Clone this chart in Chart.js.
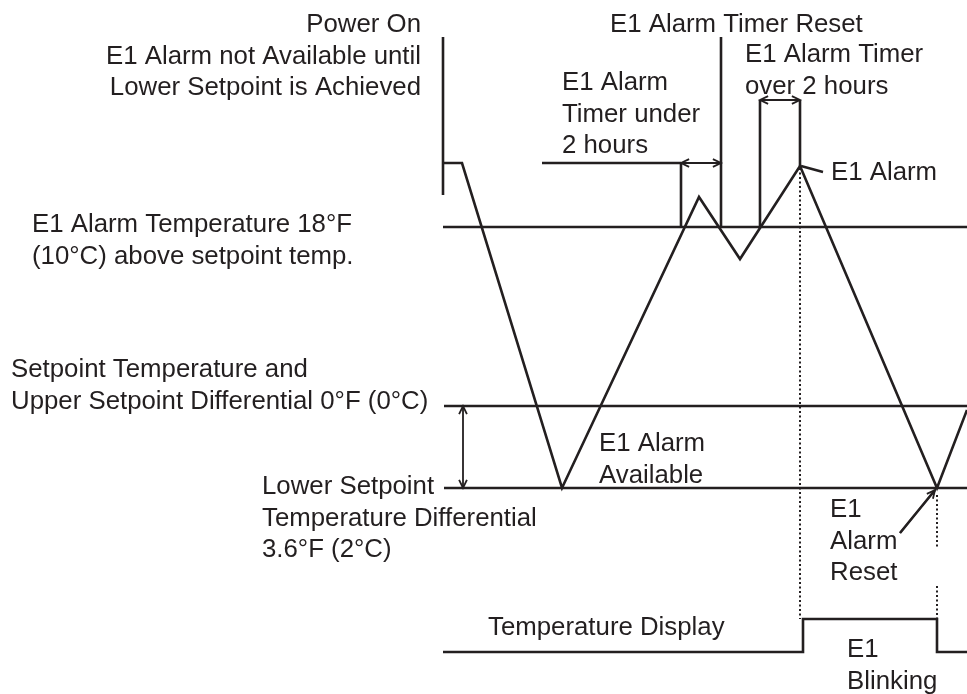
<!DOCTYPE html>
<html>
<head>
<meta charset="utf-8">
<script src="https://cdn.jsdelivr.net/npm/chart.js@4"></script>
<style>
    html, body { margin: 0; padding: 0; background: #fff; }
    #wrap { width: 967px; height: 694px; }
</style>
</head>
<body>
<div id="wrap"><canvas id="diagram" width="967" height="694"></canvas></div>
<script>
// diagram units: x = time axis, y = schematic level (drawn top-down)
const LEVEL_ALARM = 227
const LEVEL_SETPOINT = 406
const LEVEL_LOWER = 488
const DISPLAY_LOW = 652
const DISPLAY_HIGH = 619

// temperature trace: [time, level]
const traceX = [443, 462, 562, 699, 740, 800, 937, 967]
const traceY = [163, 163, 488, 197, 259, 166, 488, 410]

// display signal (normal / E1 blinking)
const displayX = [443, 803, 803, 937, 937, 967]
const displayY = [DISPLAY_LOW, DISPLAY_LOW, DISPLAY_HIGH, DISPLAY_HIGH, DISPLAY_LOW, DISPLAY_LOW]

// marker lines [x1, y1, x2, y2]
const markers = [
    [443, 37, 443, 195],   // power on
    [681, 163, 681, 227],  // timer under start
    [721, 37, 721, 227],   // timer reset
    [542, 163, 681, 163],  // leader to timer under
    [760, 100, 760, 227],  // timer over start
    [800, 100, 800, 166],  // timer over end
    [801, 166, 823, 172],  // E1 alarm leader
    [900, 533, 935, 490]   // E1 alarm reset leader
]

// arrows [x1, y1, x2, y2, bothEnds]
const arrows = [
    [681, 163, 721, 163, true],
    [760, 100, 800, 100, true],
    [463, 406, 463, 488, true],
    [900, 533, 935, 490, false]
]

// dotted guides
const dotted = [
    [800, 168, 800, 619],
    [937, 495, 937, 548],
    [937, 586, 937, 619]
]

// labels: lines, x, baseline y, align
const labels = [
    { text: ['Power On', 'E1 Alarm not Available until', 'Lower Setpoint is Achieved'], x: 421, y: 32, align: 'right' },
    { text: ['E1 Alarm Timer Reset'], x: 610, y: 32, align: 'left' },
    { text: ['E1 Alarm Timer', 'over 2 hours'], x: 745, y: 62, align: 'left' },
    { text: ['E1 Alarm', 'Timer under', '2 hours'], x: 562, y: 90, align: 'left' },
    { text: ['E1 Alarm'], x: 831, y: 180, align: 'left' },
    { text: ['E1 Alarm Temperature 18°F', '(10°C) above setpoint temp.'], x: 32, y: 232, align: 'left' },
    { text: ['Setpoint Temperature and', 'Upper Setpoint Differential 0°F (0°C)'], x: 11, y: 377, align: 'left' },
    { text: ['E1 Alarm', 'Available'], x: 599, y: 451, align: 'left' },
    { text: ['Lower Setpoint', 'Temperature Differential', '3.6°F (2°C)'], x: 262, y: 494, align: 'left' },
    { text: ['E1', 'Alarm', 'Reset'], x: 830, y: 517, align: 'left' },
    { text: ['Temperature Display'], x: 488, y: 635, align: 'left' },
    { text: ['E1', 'Blinking'], x: 847, y: 657, align: 'left' }
]

const INK = '#231f20'
const FONT = '25.8px "Liberation Sans", Arial, Helvetica, sans-serif'
const LINE_H = 31.5

function pts(xs, ys) {
    return xs.map((x, i) => ({ x: x, y: ys[i] }))
}

function seg(s, dash) {
    return {
        data: [{ x: s[0], y: s[1] }, { x: s[2], y: s[3] }],
        borderColor: INK,
        borderWidth: dash ? 2 : 2.6,
        borderDash: dash ? [2, 2.5] : [],
        showLine: true,
        pointRadius: 0,
        tension: 0
    }
}

const datasets = [
    { data: pts([443, 967], [LEVEL_ALARM, LEVEL_ALARM]) },
    { data: pts([444, 967], [LEVEL_SETPOINT, LEVEL_SETPOINT]) },
    { data: pts([444, 967], [LEVEL_LOWER, LEVEL_LOWER]) },
    { data: pts(traceX, traceY) },
    { data: pts(displayX, displayY) }
].map(d => Object.assign({
    borderColor: INK,
    borderWidth: 2.6,
    showLine: true,
    pointRadius: 0,
    tension: 0,
    borderJoinStyle: 'miter'
}, d))

markers.forEach(m => datasets.push(seg(m, false)))
dotted.forEach(m => datasets.push(seg(m, true)))

const annotate = {
    id: 'annotate',
    afterDatasetsDraw(chart) {
        const ctx = chart.ctx
        const sx = chart.scales.x
        const sy = chart.scales.y
        ctx.save()
        // arrowheads
        ctx.strokeStyle = INK
        ctx.lineWidth = 1.8
        const head = (x1, y1, x2, y2) => {
            const px = sx.getPixelForValue(x2), py = sy.getPixelForValue(y2)
            const ang = Math.atan2(py - sy.getPixelForValue(y1), px - sx.getPixelForValue(x1))
            const len = 9, spread = 0.45
            ctx.beginPath()
            ctx.moveTo(px - len * Math.cos(ang - spread), py - len * Math.sin(ang - spread))
            ctx.lineTo(px, py)
            ctx.lineTo(px - len * Math.cos(ang + spread), py - len * Math.sin(ang + spread))
            ctx.stroke()
        }
        arrows.forEach(a => {
            ctx.beginPath()
            ctx.moveTo(sx.getPixelForValue(a[0]), sy.getPixelForValue(a[1]))
            ctx.lineTo(sx.getPixelForValue(a[2]), sy.getPixelForValue(a[3]))
            ctx.stroke()
            head(a[0], a[1], a[2], a[3])
            if (a[4]) head(a[2], a[3], a[0], a[1])
        })
        // text
        ctx.fillStyle = INK
        ctx.font = FONT
        ctx.textBaseline = 'alphabetic'
        labels.forEach(l => {
            ctx.textAlign = l.align
            l.text.forEach((t, i) => {
                ctx.fillText(t, sx.getPixelForValue(l.x), sy.getPixelForValue(l.y) + i * LINE_H)
            })
        })
        ctx.restore()
    }
}

const CHART = document.getElementById('diagram')
const diagram = new Chart(CHART, {
    type: 'scatter',
    data: { datasets: datasets },
    options: {
        responsive: false,
        animation: false,
        layout: { padding: 0 },
        plugins: { legend: { display: false }, tooltip: { enabled: false } },
        scales: {
            x: { type: 'linear', min: 0, max: 967, display: false },
            y: { type: 'linear', min: 0, max: 694, reverse: true, display: false }
        }
    },
    plugins: [annotate]
});
</script>
</body>
</html>
